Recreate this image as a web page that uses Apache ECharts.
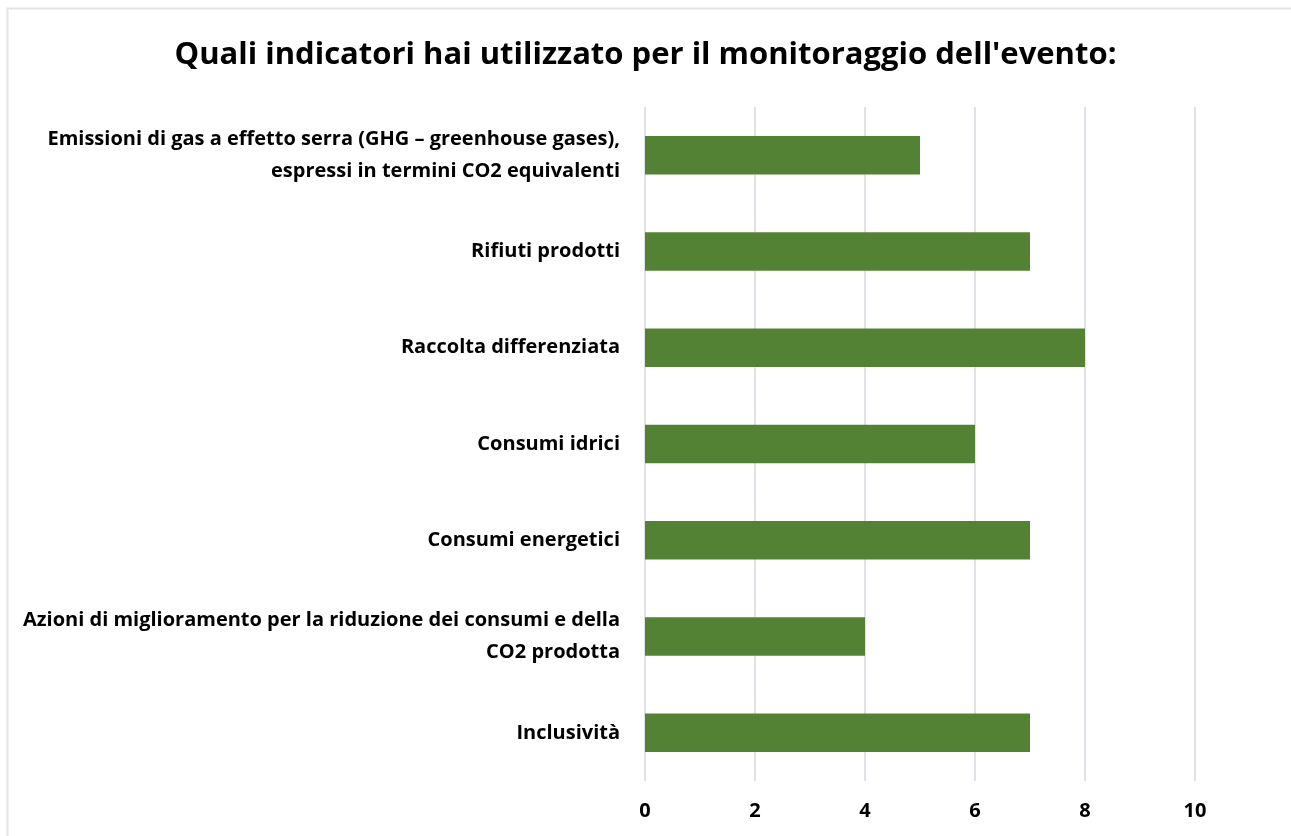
<!DOCTYPE html>
<html>
<head>
<meta charset="utf-8">
<script src="https://cdn.jsdelivr.net/npm/echarts@6/dist/echarts.min.js"></script>
<style>
  html, body { margin: 0; padding: 0; background: #fff; }
  #chart { width: 1291px; height: 836px; }
</style>
</head>
<body>
<div id="chart"></div>
<script>
var categories = [
    'Emissioni di gas a effetto serra (GHG – greenhouse gases),\nespressi in termini CO2 equivalenti',
    'Rifiuti prodotti',
    'Raccolta differenziata',
    'Consumi idrici',
    'Consumi energetici',
    'Azioni di miglioramento per la riduzione dei consumi e della\nCO2 prodotta',
    'Inclusività'
];
var values = [5, 7, 8, 6, 7, 4, 7];
var ticks = [0, 2, 4, 6, 8, 10];

var font = '"Open Sans", sans-serif';

var option = {
    animation: false,
    backgroundColor: '#fff',
    title: {
        text: "Quali indicatori hai utilizzato per il monitoraggio dell'evento:",
        left: 'center',
        top: 35,
        textStyle: { fontFamily: font, fontWeight: 'bold', fontSize: 31, color: '#000' }
    },
    graphic: [{
        type: 'rect',
        shape: { x: 7.5, y: 8.5, width: 1300, height: 840 },
        style: { fill: null, stroke: '#e1e4e8', lineWidth: 2 },
        silent: true
    }],
    grid: { left: 645, right: 96, top: 107, bottom: 55 },
    xAxis: {
        type: 'value',
        min: ticks[0],
        max: ticks[ticks.length - 1],
        interval: 2,
        axisLine: { show: false },
        axisTick: { show: false },
        splitLine: { lineStyle: { color: '#dfe3e8', width: 2 } },
        axisLabel: {
            margin: 20,
            fontFamily: font, fontWeight: 'bold', fontSize: 20, color: '#000'
        }
    },
    yAxis: {
        type: 'category',
        inverse: true,
        data: categories,
        axisLine: { show: false },
        axisTick: { show: false },
        axisLabel: {
            margin: 25,
            align: 'right',
            fontFamily: font, fontWeight: 'bold', fontSize: 20, color: '#000',
            lineHeight: 32
        }
    },
    series: [{
        type: 'bar',
        data: values,
        barWidth: '40%',
        itemStyle: { color: '#548235' }
    }]
};

var myChart = echarts.init(document.getElementById('chart'));
myChart.setOption(option);
</script>
</body>
</html>
